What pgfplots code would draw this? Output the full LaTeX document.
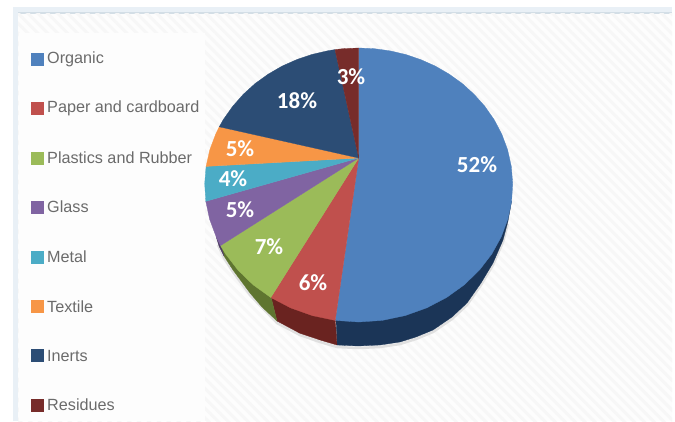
\documentclass[border=0pt]{standalone}
\usepackage{fontspec}
\setmainfont{Liberation Sans}
\newfontfamily\labelfont{Carlito}
\usepackage{pgfplots}
\pgfplotsset{compat=1.18}
\usetikzlibrary{patterns.meta}
\definecolor{cOrganic}{HTML}{4F81BD}
\definecolor{cPaper}{HTML}{C0504D}
\definecolor{cPlastics}{HTML}{9BBB59}
\definecolor{cGlass}{HTML}{8064A2}
\definecolor{cMetal}{HTML}{4BACC6}
\definecolor{cTextile}{HTML}{F79646}
\definecolor{cInerts}{HTML}{2C4D75}
\definecolor{cResidues}{HTML}{772C2A}
\definecolor{wOrganic}{HTML}{1B3557}
\definecolor{wPaper}{HTML}{6A2320}
\definecolor{wPlastics}{HTML}{5F7530}
\definecolor{wGlass}{HTML}{4D3B63}
\definecolor{bandLight}{HTML}{E9F0F6}
\definecolor{bandDark}{HTML}{D3DEE6}
\definecolor{panel}{HTML}{FDFDFD}
\definecolor{panelHatch}{HTML}{F7F7F7}
\definecolor{keyPanel}{HTML}{FDFDFD}
\pgfplotsset{
  face/.style={fill=#1, draw=#1, line width=0.3pt, mark=none},
  wall/.style={fill=#1, draw=#1, line width=0.3pt, mark=none},
  key/.style={only marks, mark=square*, mark size=6pt, color=#1},
}
\begin{document}
\begin{tikzpicture}
\begin{axis}[
  hide axis, scale only axis, x=1pt, y=1pt,
  xmin=0, xmax=675, ymin=0, ymax=421, y dir=reverse,
  clip=true,
]
% page ground, frame bands, hatched panel and the plain key panel
\addplot[fill=white, draw=none] coordinates {(0,0) (675,0) (675,421) (0,421)} --cycle;
\addplot[fill=bandLight, draw=none] coordinates {(13,7) (672,7) (672,13) (13,13)} --cycle;
\addplot[fill=bandDark, draw=none] coordinates {(18,12) (672,12) (672,13.5) (18,13.5)} --cycle;
\addplot[fill=bandLight, draw=none] coordinates {(13,7) (18,7) (18,421) (13,421)} --cycle;
\addplot[fill=panel, draw=none] coordinates {(18,13.5) (672,13.5) (672,421) (18,421)} --cycle;
\addplot[draw=none, pattern={Lines[angle=-45, distance=7pt, line width=3pt]}, pattern color=panelHatch] coordinates {(18,13.5) (672,13.5) (672,421) (18,421)} --cycle;
\addplot[fill=keyPanel, draw=none] coordinates {(19,33) (205,33) (205,421) (19,421)} --cycle;

% soft edge under the pie
\addplot[draw=black!12, line width=2.5pt, mark=none] coordinates {(507.8,224) (503,242) (493,265) (481,285) (467,305) (452,319) (433,332) (416,339) (400,344) (380,347) (358,348) (337,347) (320,342) (300,335) (277,323) (250,295) (233,272) (224,258) (218,245)};

% side walls
\addplot[wall=wOrganic] coordinates {(511.6,201.3) (507.8,222) (503,240) (493,263) (481,283) (467,303) (452,317) (433,330) (416,337) (400,342) (380,345) (358,346) (337,345) (336,318) (358,300) (480,200)} --cycle;
\addplot[wall=wPaper] coordinates {(337,345) (320,340) (300,333.3) (277,321) (270.8,296) (335.2,319)} --cycle;
\addplot[wall=wPlastics] coordinates {(277,321) (262,307) (250,293) (233,270) (224,256) (220.5,245) (270.8,296)} --cycle;
\addplot[wall=wGlass] coordinates {(224,256) (219,246) (216.2,236.9) (220.5,245)} --cycle;

% top faces, one slice per share: 52, 6, 7, 5, 4, 5, 18, 3 percent
\addplot[face=cOrganic] coordinates {(358.7,158) (358.7,48.0) (374.5,48.7) (390.2,50.9) (405.7,54.5) (420.7,59.6) (435.3,66.1) (449.1,74.1) (462.1,83.4) (474.0,94.2) (484.8,106.3) (494.1,119.6) (501.8,134.2) (507.6,149.8) (511.3,166.4) (512.7,183.6) (511.6,201.3) (507.8,219.2) (501.2,236.9) (491.8,254.0) (479.4,270.1) (464.3,284.8) (446.6,297.5) (426.7,307.9) (405.1,315.6) (382.2,320.4) (358.7,322.0) (335.2,320.4)} --cycle;
\addplot[face=cPaper] coordinates {(358.7,158) (335.2,320.4) (312.3,315.6) (290.7,307.9) (270.8,297.5)} --cycle;
\addplot[face=cPlastics] coordinates {(358.7,158) (270.8,297.5) (253.1,284.8) (238.0,270.1) (225.6,254.0) (220.5,245.6)} --cycle;
\addplot[face=cGlass] coordinates {(358.7,158) (220.5,245.6) (216.2,236.9) (209.6,219.2) (205.8,201.3)} --cycle;
\addplot[face=cMetal] coordinates {(358.7,158) (205.8,201.3) (204.7,183.6) (206.1,166.4)} --cycle;
\addplot[face=cTextile] coordinates {(358.7,158) (206.1,166.4) (209.8,149.8) (215.7,134.2) (219.3,126.8)} --cycle;
\addplot[face=cInerts] coordinates {(358.7,158) (219.3,126.8) (223.3,119.6) (232.7,106.3) (243.4,94.2) (255.3,83.4) (268.3,74.1) (282.1,66.1) (296.7,59.6) (311.7,54.5) (327.2,50.9) (335.0,49.6)} --cycle;
\addplot[face=cResidues] coordinates {(358.7,158) (335.0,49.6) (342.9,48.7) (358.7,48.0)} --cycle;

% share labels on the slices
\addplot[draw=none, mark=none, point meta=explicit symbolic,
  nodes near coords={\pgfplotspointmeta\%}, nodes near coords align=center,
  every node near coord/.append style={anchor=center, inner sep=0pt, text=white, font=\labelfont\bfseries\fontsize{23}{23}\selectfont}]
  coordinates {(477,165) [52] (313,283) [6] (269,247) [7] (240,210) [5] (233,179) [4] (240,149) [5] (297,101) [18] (351,77) [3]};

% key swatches
\addplot[key=cOrganic] coordinates {(36.7,59)};
\addplot[key=cPaper] coordinates {(36.7,108)};
\addplot[key=cPlastics] coordinates {(36.7,158)};
\addplot[key=cGlass] coordinates {(36.7,207)};
\addplot[key=cMetal] coordinates {(36.7,257)};
\addplot[key=cTextile] coordinates {(36.7,306)};
\addplot[key=cInerts] coordinates {(36.7,355)};
\addplot[key=cResidues] coordinates {(36.7,405)};

% key texts
\addplot[draw=none, mark=none, point meta=explicit symbolic,
  nodes near coords, nodes near coords align=center,
  every node near coord/.append style={anchor=west, inner sep=0pt, text=black!58, font=\fontsize{16.2}{16.2}\selectfont}]
  coordinates {(47,59) [Organic] (47,108) [Paper and cardboard] (47,158) [Plastics and Rubber] (47,207) [Glass] (47,257) [Metal] (47,307) [Textile] (47,356) [Inerts] (47,405) [Residues]};
\end{axis}
\end{tikzpicture}
\end{document}
